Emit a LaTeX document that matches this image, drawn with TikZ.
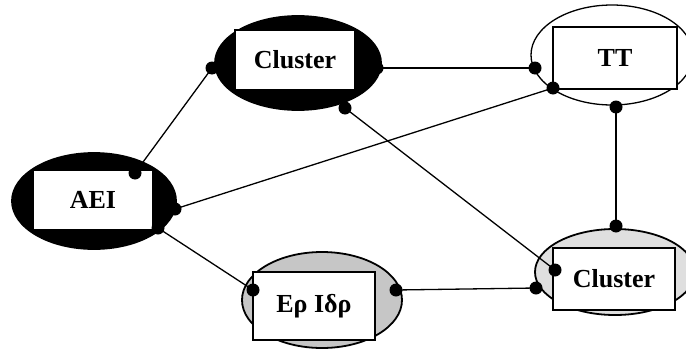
\documentclass[tikz,border=0pt]{standalone}
\usepackage{fontspec}
\setmainfont{Liberation Serif}
\usetikzlibrary{shapes.geometric}
\begin{document}
\begin{tikzpicture}[x=1pt,y=-1pt,
  oval/.style={ellipse,draw=black,line width=1.8pt,inner sep=0pt},
  box/.style={rectangle,draw=black,line width=2pt,fill=white,inner sep=0pt,font=\bfseries\fontsize{26}{30}\selectfont},
  dot/.style={circle,fill=black,inner sep=0pt,minimum size=13pt},
  link/.style={line width=1.3pt}]
\useasboundingbox (0,0) rectangle (686,351);
% ellipses
\node[oval,fill=black,minimum width=166pt,minimum height=94pt] (e1) at (298,63) {};
\node[oval,fill=white,line width=1.3pt,minimum width=162pt,minimum height=100pt] (e2) at (612,55) {};
\node[oval,fill=black,minimum width=164pt,minimum height=96pt] (e3) at (94,201) {};
\node[oval,fill=gray!45,minimum width=160pt,minimum height=96pt] (e4) at (322,300) {};
\node[oval,fill=gray!25,minimum width=160pt,minimum height=86pt] (e5) at (615,272) {};
% boxes
\node[box,minimum width=120pt,minimum height=60pt] (b1) at (295,60) {Cluster};
\node[box,minimum width=124pt,minimum height=62pt] (b2) at (615,58) {TT};
\node[box,minimum width=120pt,minimum height=60pt] (b3) at (93,200) {AEI};
\node[box,minimum width=122pt,minimum height=68pt] (b4) at (314,306) {Ερ Ιδρ};
\node[box,minimum width=122pt,minimum height=62pt] (b5) at (614,279) {Cluster};
% connection points
\coordinate (c1l) at (212,68);
\coordinate (c1r) at (377,68);
\coordinate (c1b) at (345,108);
\coordinate (t2l) at (535,68);
\coordinate (t2c) at (553,88);
\coordinate (t2b) at (616,107);
\coordinate (a3t) at (135,173);
\coordinate (a3r) at (175,209);
\coordinate (a3b) at (158,228);
\coordinate (e4l) at (253,290);
\coordinate (e4r) at (396,290);
\coordinate (c5t) at (616,226);
\coordinate (c5l) at (555,270);
\coordinate (c5b) at (536,288);
% links
\draw[link] (a3t) -- (c1l);
\draw[link] (a3r) -- (t2c);
\draw[link] (a3b) -- (e4l);
\draw[link] (c1r) -- (t2l);
\draw[link] (c1b) -- (c5l);
\draw[link] (t2b) -- (c5t);
\draw[link] (e4r) -- (c5b);
% dots
\foreach \p in {c1l,c1r,c1b,t2l,t2c,t2b,a3t,a3r,a3b,e4l,e4r,c5t,c5l,c5b}
  \node[dot] at (\p) {};
\end{tikzpicture}
\end{document}
